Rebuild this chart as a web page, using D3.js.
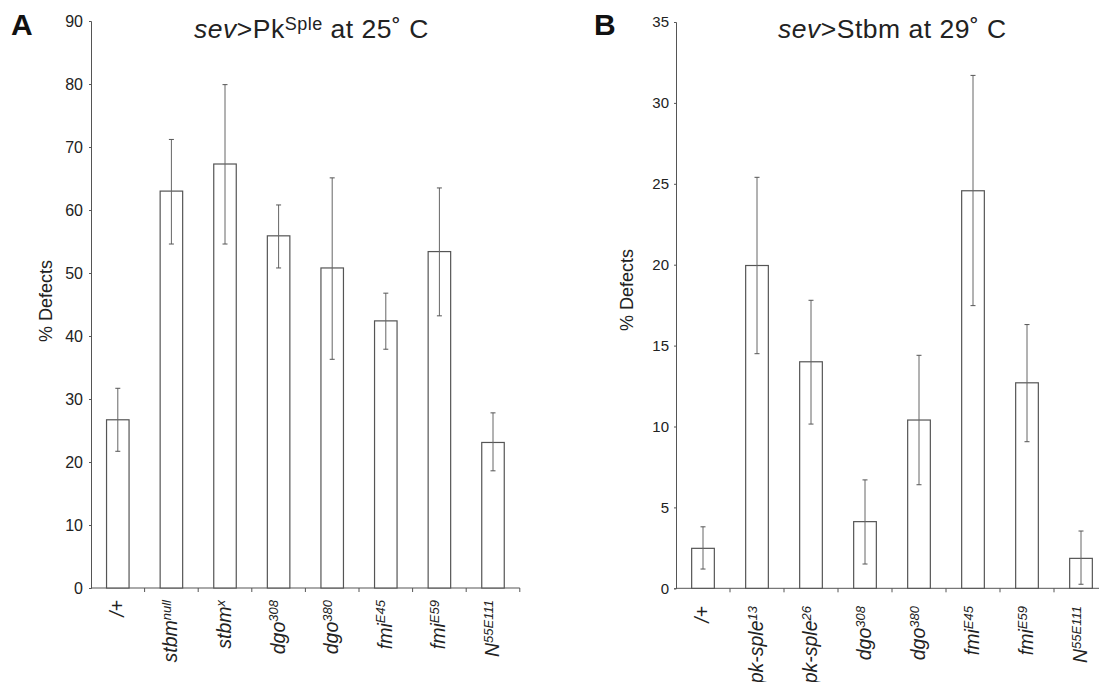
<!DOCTYPE html>
<html>
<head>
<meta charset="utf-8">
<script src="https://cdn.jsdelivr.net/npm/d3@7"></script>
<style>
  body { margin: 0; background: #fff; }
  svg { font-family: "Liberation Sans", Arial, sans-serif; }
  .tick text { fill: #222; }
</style>
</head>
<body>
<div id="chart"></div>
<script>
// Data
let genotypesA = ["/+", "stbm|null", "stbm|x", "dgo|308", "dgo|380", "fmi|E45", "fmi|E59", "N|55E111"];
let defectsA = [26.7, 63.0, 67.3, 55.9, 50.8, 42.4, 53.4, 23.1];
let errHighA = [31.7, 71.2, 79.9, 60.8, 65.1, 46.8, 63.5, 27.8];
let errLowA = [21.7, 54.6, 54.6, 50.8, 36.3, 37.9, 43.2, 18.6];
let yTicksA = [0, 10, 20, 30, 40, 50, 60, 70, 80, 90];

let genotypesB = ["/+", "pk-sple|13", "pk-sple|26", "dgo|308", "dgo|380", "fmi|E45", "fmi|E59", "N|55E111"];
let defectsB = [2.47, 19.95, 14.0, 4.12, 10.4, 24.57, 12.7, 1.85];
let errHighB = [3.8, 25.4, 17.8, 6.7, 14.4, 31.7, 16.3, 3.54];
let errLowB = [1.19, 14.5, 10.15, 1.5, 6.4, 17.47, 9.06, 0.25];
let yTicksB = [0, 5, 10, 15, 20, 25, 30, 35];

let svgWidth = 1099;
let svgHeight = 682;

let svg = d3.select("#chart")
  .append("svg")
  .attr("width", svgWidth)
  .attr("height", svgHeight);

function drawPanel(opts) {
  let g = svg.append("g");
  let rows = opts.names.map((n, i) => ({
    name: n, value: opts.values[i], hi: opts.hi[i], lo: opts.lo[i]
  }));

  let x = d3.scaleBand()
    .domain(opts.names)
    .range([opts.left, opts.left + opts.step * opts.names.length])
    .padding(0);
  let y = d3.scaleLinear()
    .domain([0, opts.yMax])
    .range([opts.bottom, opts.top]);

  // y axis
  let yAxis = d3.axisLeft(y).tickValues(opts.yTicks).tickSize(2).tickPadding(opts.tickPad);
  let ya = g.append("g")
    .attr("transform", `translate(${opts.left}, 0)`)
    .call(yAxis);
  ya.select(".domain").attr("stroke", "#555");
  ya.selectAll(".tick line").attr("stroke", "#555");
  ya.selectAll(".tick text").attr("font-size", opts.tickFont);

  // x axis line + boundary ticks
  let xEnd = opts.left + opts.step * opts.names.length;
  g.append("line")
    .attr("x1", opts.left).attr("x2", xEnd)
    .attr("y1", opts.bottom).attr("y2", opts.bottom)
    .attr("stroke", "#555");
  g.selectAll(".btick")
    .data(opts.names)
    .enter()
    .append("line")
    .attr("x1", d => x(d) + x.bandwidth()).attr("x2", d => x(d) + x.bandwidth())
    .attr("y1", opts.bottom).attr("y2", opts.bottom + 4)
    .attr("stroke", "#555");

  let barW = x.bandwidth() * 0.42;

  // bars
  g.selectAll(".bar")
    .data(rows)
    .enter()
    .append("rect")
    .attr("x", d => x(d.name) + x.bandwidth() / 2 - barW / 2)
    .attr("y", d => y(d.value))
    .attr("width", barW)
    .attr("height", d => y(0) - y(d.value))
    .attr("fill", "#fff")
    .attr("stroke", "#555")
    .attr("stroke-width", 1.2);

  // error bars
  let cx = d => x(d.name) + x.bandwidth() / 2;
  g.selectAll(".err")
    .data(rows)
    .enter()
    .append("line")
    .attr("x1", cx).attr("x2", cx)
    .attr("y1", d => y(d.hi)).attr("y2", d => y(d.lo))
    .attr("stroke", "#666");
  ["hi", "lo"].forEach(k => {
    g.selectAll(".cap" + k)
      .data(rows)
      .enter()
      .append("line")
      .attr("x1", d => cx(d) - 2.5).attr("x2", d => cx(d) + 2.5)
      .attr("y1", d => y(d[k])).attr("y2", d => y(d[k]))
      .attr("stroke", "#555");
  });

  // x labels (rotated, italic, with superscripts)
  rows.forEach(d => {
    let parts = d.name.split("|");
    let t = g.append("text")
      .attr("transform", `translate(${cx(d) + 6}, ${opts.labelY}) rotate(-90)`)
      .attr("text-anchor", "end")
      .attr("font-style", "italic")
      .attr("font-size", 19.5)
      .attr("fill", "#222");
    t.append("tspan").text(parts[0]);
    if (parts[1]) {
      t.append("tspan")
        .attr("font-size", 13)
        .attr("dy", "-0.5em")
        .text(parts[1]);
    }
  });

  // axis title
  g.append("text")
    .attr("transform", `translate(${opts.titleX}, ${opts.titleY}) rotate(-90)`)
    .attr("text-anchor", "middle")
    .attr("font-size", 18)
    .attr("fill", "#222")
    .text("% Defects");

  // panel letter
  g.append("text")
    .attr("x", opts.letterX).attr("y", 35)
    .attr("font-size", 30)
    .attr("font-weight", "bold")
    .attr("fill", "#111")
    .text(opts.letter);

  // heading
  let h = g.append("text")
    .attr("x", opts.headX).attr("y", 38)
    .attr("font-size", 26.5)
    .attr("letter-spacing", 0.5)
    .attr("fill", "#222");
  h.append("tspan").attr("font-style", "italic").text("sev");
  h.append("tspan").text(opts.head[0]);
  if (opts.head[1]) {
    h.append("tspan").attr("font-size", 18).attr("dy", -8).text(opts.head[1]);
    h.append("tspan").attr("dy", 8).text(opts.head[2]);
  } else {
    h.append("tspan").text(opts.head[2]);
  }
}

drawPanel({
  names: genotypesA, values: defectsA, hi: errHighA, lo: errLowA,
  yTicks: yTicksA, yMax: 90, tickFont: 16, tickPad: 6,
  left: 91, step: 53.6, top: 21, bottom: 588,
  labelY: 600, titleX: 52, titleY: 301,
  letter: "A", letterX: 11, headX: 194,
  head: [">Pk", "Sple", " at 25\u02DA C"]
});

drawPanel({
  names: genotypesB, values: defectsB, hi: errHighB, lo: errLowB,
  yTicks: yTicksB, yMax: 35, tickFont: 15, tickPad: 5,
  left: 676, step: 54, top: 22, bottom: 588.3,
  labelY: 606, titleX: 633, titleY: 290,
  letter: "B", letterX: 594, headX: 778,
  head: [">Stbm", null, " at 29\u02DA C"]
});
</script>
</body>
</html>
